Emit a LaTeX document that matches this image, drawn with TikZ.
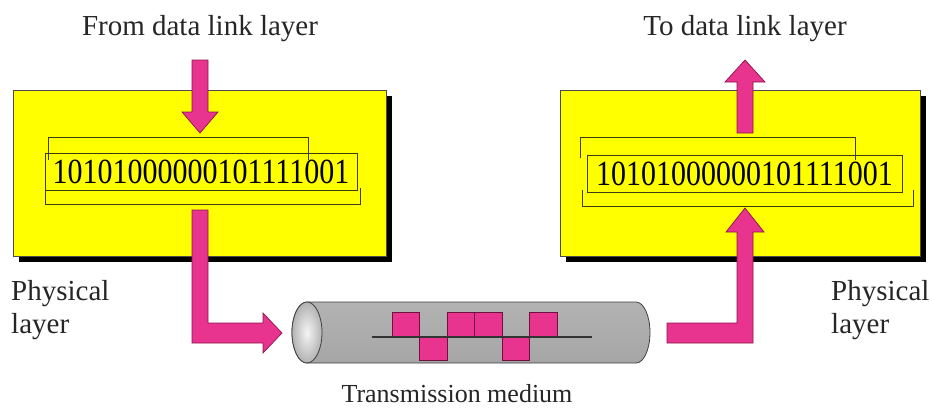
\documentclass[tikz,border=0pt]{standalone}
\usepackage{fontspec}
\setmainfont{Liberation Serif}
\definecolor{ylw}{RGB}{255,255,0}
\definecolor{pnk}{RGB}{232,52,142}
\definecolor{pnkd}{RGB}{140,20,75}
\definecolor{frm}{RGB}{60,60,20}
\newcommand{\tallbits}[1]{\scalebox{1}[1.18]{#1}}
\begin{document}
\begin{tikzpicture}[x=1pt,y=-1pt,
  ybox/.style={draw=black!70, line width=0.8pt, fill=ylw, minimum width=#1, minimum height=166pt, inner sep=0pt},
  bits/.style={draw=frm, line width=1pt, minimum width=#1, minimum height=37pt, inner sep=0pt, font=\fontsize{30}{32}\selectfont},
  frame/.style={draw=frm, line width=0.9pt},
  arrowst/.style={fill=pnk, draw=pnkd, line width=0.7pt, line join=miter},
  sq/.style={fill=pnk, draw=pnkd!80!black, line width=0.9pt},
  lbl/.style={inner sep=0pt, font=\fontsize{29}{33}\selectfont, text=black!85},
  lblsmall/.style={inner sep=0pt, font=\fontsize{26}{30}\selectfont, text=black!85}
]
\useasboundingbox (0,0) rectangle (933,410);
\fill[white] (0,0) rectangle (933,410);

% yellow boxes with shadows
\fill[black] (19,96) rectangle (392,262);
\node[ybox=373pt] (lbox) at (199.5,173) {};
\fill[black] (566,96) rectangle (926,262);
\node[ybox=360pt] (rbox) at (740,173) {};

% left bit frame
\draw[frame] (48,160) -- (48,137) -- (308,137) -- (308,160);
\draw[frame] (45,190) -- (45,204) -- (360,204) -- (360,188);
\node[bits=312pt] (lbits) at (201,171.5) {\tallbits{10101000000101111001}};

% right bit frame
\draw[frame] (580,158) -- (580,137) -- (855,137) -- (855,160);
\draw[frame] (582,190) -- (582,206) -- (913,206) -- (913,190);
\node[bits=315pt] (rbits) at (744.5,174) {\tallbits{10101000000101111001}};

% arrows
\filldraw[arrowst] (192,60) -- (208,60) -- (208,112) -- (218,112) -- (200,133) -- (182,112) -- (192,112) -- cycle;

\filldraw[arrowst] (192,210) -- (208,210) -- (208,323) -- (263,323) -- (263,313) -- (282,333) -- (263,353) -- (263,343) -- (192,343) -- cycle;

\filldraw[arrowst] (667,323) -- (737,323) -- (737,232) -- (726,232) -- (745,208) -- (764,232) -- (753,232) -- (753,343) -- (667,343) -- cycle;

\filldraw[arrowst] (737,133) -- (737,82) -- (725,82) -- (745,60) -- (765,82) -- (753,82) -- (753,133) -- cycle;

% cylinder
\shadedraw[top color=gray!60, middle color=gray!15, bottom color=gray!70, draw=black!75, line width=0.8pt]
  (307,302) -- (636,302) arc[start angle=-90, end angle=90, x radius=14, y radius=30.5]
  -- (307,363) arc[start angle=90, end angle=270, x radius=15, y radius=30.5] -- cycle;
\shadedraw[inner color=gray!8, outer color=gray!60, draw=black!75, line width=0.8pt]
  (307,332.5) ellipse[x radius=15, y radius=30.5];

% signal
\filldraw[sq] (392,312) rectangle (419.5,337);
\filldraw[sq] (419.5,337) rectangle (447,360);
\filldraw[sq] (447,312) rectangle (474.5,337);
\filldraw[sq] (474.5,312) rectangle (502,337);
\filldraw[sq] (502,337) rectangle (529.5,360);
\filldraw[sq] (529.5,312) rectangle (557,337);
\draw[black!80, line width=1.3pt] (372,337) -- (592,337);

% labels
\node[lbl, anchor=base] (from) at (200,35) {From data link layer};
\node[lbl, anchor=base] (to) at (745,35) {To data link layer};
\node[lbl, anchor=base west] (lp1) at (11,300) {Physical};
\node[lbl, anchor=base west] (lp2) at (11,333) {layer};
\node[lbl, anchor=base west] (rp1) at (831,300) {Physical};
\node[lbl, anchor=base west] (rp2) at (831,333) {layer};
\node[lblsmall, anchor=base] (tm) at (457,402) {Transmission medium};
\end{tikzpicture}
\end{document}
